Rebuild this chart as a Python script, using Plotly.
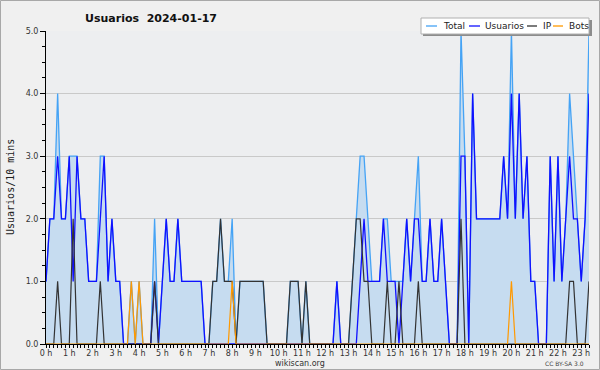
import plotly.graph_objects as go

# ---- data (10-minute slots, 00:00 .. 23:20) ----
hours = list(range(24))
hour_labels = [f"{h} h" for h in hours]
y_ticks = [0, 1, 2, 3, 4, 5]
y_labels = ["0.0", "1.0", "2.0", "3.0", "4.0", "5.0"]

total = [
    1, 2, 2, 4, 2, 2,   3, 3, 3, 2, 2, 1,   1, 1, 3, 3, 1, 2,   1, 1, 0, 0, 1, 0,
    1, 0, 0, 0, 2, 0,   1, 2, 1, 1, 2, 1,   1, 1, 1, 1, 1, 0,   0, 1, 1, 2, 1, 1,
    2, 0, 1, 1, 1, 1,   1, 1, 1, 0, 0, 0,   0, 0, 0, 1, 1, 1,   0, 1, 0, 0, 0, 0,
    0, 0, 0, 1, 0, 0,   0, 1, 2, 3, 3, 2,   1, 1, 1, 2, 2, 1,   1, 1, 1, 2, 1, 2,
    3, 1, 1, 2, 1, 1,   2, 1, 0, 0, 0, 5,   3, 0, 4, 2, 2, 2,   2, 2, 2, 2, 3, 2,
    5, 2, 4, 2, 3, 1,   1, 0, 0, 0, 3, 1,   3, 1, 2, 4, 3, 2,   1, 2, 5,
]
usuarios = [
    1, 2, 2, 3, 2, 2,   3, 1, 3, 2, 2, 1,   1, 1, 2, 3, 1, 2,   1, 1, 0, 0, 0, 0,
    0, 0, 0, 0, 1, 0,   1, 2, 1, 1, 2, 1,   1, 1, 1, 1, 1, 0,   0, 0, 0, 0, 0, 0,
    0, 0, 0, 0, 0, 0,   0, 0, 0, 0, 0, 0,   0, 0, 0, 0, 0, 0,   0, 0, 0, 0, 0, 0,
    0, 0, 0, 1, 0, 0,   0, 0, 0, 1, 2, 1,   1, 1, 1, 2, 1, 1,   1, 0, 1, 2, 1, 2,
    2, 1, 1, 2, 1, 1,   2, 1, 0, 0, 0, 3,   3, 0, 4, 2, 2, 2,   2, 2, 2, 2, 3, 2,
    4, 2, 4, 2, 3, 1,   1, 0, 0, 0, 3, 1,   3, 1, 2, 3, 2, 2,   1, 2, 4,
]
ip = [
    0, 0, 0, 1, 0, 0,   0, 2, 0, 0, 0, 0,   0, 0, 1, 0, 0, 0,   0, 0, 0, 0, 0, 0,
    0, 0, 0, 0, 1, 0,   0, 0, 0, 0, 0, 0,   0, 0, 0, 0, 0, 0,   0, 1, 1, 2, 1, 1,
    1, 0, 1, 1, 1, 1,   1, 1, 1, 0, 0, 0,   0, 0, 0, 1, 1, 1,   0, 1, 0, 0, 0, 0,
    0, 0, 0, 0, 0, 0,   0, 1, 2, 2, 1, 1,   0, 0, 0, 0, 1, 0,   0, 1, 0, 0, 0, 0,
    1, 0, 0, 0, 0, 0,   0, 0, 0, 0, 0, 2,   0, 0, 0, 0, 0, 0,   0, 0, 0, 0, 0, 0,
    0, 0, 0, 0, 0, 0,   0, 0, 0, 0, 0, 0,   0, 0, 0, 1, 1, 0,   0, 0, 1,
]
bots = [
    0, 0, 0, 0, 0, 0,   0, 0, 0, 0, 0, 0,   0, 0, 0, 0, 0, 0,   0, 0, 0, 0, 1, 0,
    1, 0, 0, 0, 0, 0,   0, 0, 0, 0, 0, 0,   0, 0, 0, 0, 0, 0,   0, 0, 0, 0, 0, 0,
    1, 0, 0, 0, 0, 0,   0, 0, 0, 0, 0, 0,   0, 0, 0, 0, 0, 0,   0, 0, 0, 0, 0, 0,
    0, 0, 0, 0, 0, 0,   0, 0, 0, 0, 0, 0,   0, 0, 0, 0, 0, 0,   0, 0, 0, 0, 0, 0,
    0, 0, 0, 0, 0, 0,   0, 0, 0, 0, 0, 0,   0, 0, 0, 0, 0, 0,   0, 0, 0, 0, 0, 0,
    1, 0, 0, 0, 0, 0,   0, 0, 0, 0, 0, 0,   0, 0, 0, 0, 0, 0,   0, 0, 0,
]
slots = list(range(len(total)))
hour_slots = [6 * h for h in hours]

series_names = ["Total", "Usuarios", "IP", "Bots"]
series_colors = ["#45a3f5", "#1010ff", "#333333", "#ff9900"]

# ---- figure geometry ----
W, H = 600, 370
PL, PR, PT, PB = 46, 589, 31, 344


def fx(x):
    return (x - PL) / (PR - PL)


def fy(y):
    return (PB - y) / (PB - PT)


FONT = "DejaVu Sans"
fig = go.Figure()

fig.add_trace(go.Scatter(x=slots, y=total, mode="lines", name="Total",
                         line=dict(color=series_colors[0], width=1.3),
                         fill="tozeroy", fillcolor="#c6dcf0", showlegend=False))
fig.add_trace(go.Scatter(x=slots, y=usuarios, mode="lines", name="Usuarios",
                         line=dict(color=series_colors[1], width=1.3), showlegend=False))
fig.add_trace(go.Scatter(x=slots, y=ip, mode="lines", name="IP",
                         line=dict(color=series_colors[2], width=1.2), showlegend=False))
fig.add_trace(go.Scatter(x=slots, y=bots, mode="lines", name="Bots",
                         line=dict(color=series_colors[3], width=1.2), showlegend=False))

shapes = []
annotations = []

# outer border
shapes.append(dict(type="rect", xref="paper", yref="paper",
                   x0=fx(0.5), x1=fx(599.5), y0=fy(0.5), y1=fy(369.5),
                   line=dict(color="#a8a8a8", width=1), layer="below"))

# legend box (shadow + box)
shapes.append(dict(type="rect", xref="paper", yref="paper",
                   x0=fx(423), x1=fx(592), y0=fy(20), y1=fy(36),
                   fillcolor="#8c8c8c", line=dict(width=0)))
shapes.append(dict(type="rect", xref="paper", yref="paper",
                   x0=fx(421), x1=fx(589), y0=fy(18), y1=fy(34),
                   fillcolor="#ffffff", line=dict(color="#b0b0b0", width=1)))

leg_lines = [(426, 437), (469, 480), (527, 537), (553, 563)]
leg_text_x = [441, 483, 541, 567]
for name, col, (a, b), tx in zip(series_names, series_colors, leg_lines, leg_text_x):
    shapes.append(dict(type="line", xref="paper", yref="paper",
                       x0=fx(a), x1=fx(b), y0=fy(26), y1=fy(26),
                       line=dict(color=col, width=1.3)))
    annotations.append(dict(text=name, xref="paper", yref="paper",
                            x=fx(tx), y=fy(26), xanchor="left", yanchor="middle",
                            showarrow=False, font=dict(family=FONT, size=9, color="#222")))

annotations.append(dict(text="wikiscan.org", xref="paper", yref="paper",
                        x=fx(300), y=fy(363), xanchor="center", yanchor="middle",
                        showarrow=False, font=dict(family=FONT, size=8, color="#333")))
annotations.append(dict(text="CC BY-SA 3.0", xref="paper", yref="paper",
                        x=fx(586), y=fy(363), xanchor="right", yanchor="middle",
                        showarrow=False, font=dict(family=FONT, size=6, color="#444")))
annotations.append(dict(text="Usuarios/10 mins", xref="paper", yref="paper",
                        x=fx(10), y=fy(187), xanchor="center", yanchor="middle",
                        textangle=-90, showarrow=False,
                        font=dict(family="DejaVu Sans Mono", size=10, color="#222")))

fig.update_layout(
    width=W, height=H,
    margin=dict(l=PL, r=W - PR, t=PT, b=H - PB, pad=0),
    paper_bgcolor="#f0f0f0", plot_bgcolor="#edeef0",
    title=dict(text="Usuarios\u00a0 2024-01-17", xref="container", yref="container",
               x=151 / W, y=1 - 18 / H, xanchor="center", yanchor="middle",
               font=dict(family=FONT, size=11, color="#111", weight="bold")),
    shapes=shapes, annotations=annotations,
    showlegend=False,
    xaxis=dict(range=[0, len(total) - 1], tickmode="array", tickvals=hour_slots,
               ticktext=hour_labels, showgrid=False, zeroline=False,
               showline=True, linecolor="#000", linewidth=1,
               ticks="outside", ticklen=3, tickcolor="#000", tickwidth=1,
               ticklabelstandoff=-2,
               tickfont=dict(family=FONT, size=8, color="#333"),
               minor=dict(tickmode="linear", tick0=0, dtick=1, ticks="outside",
                          ticklen=3, tickcolor="#000", showgrid=False),
               fixedrange=True),
    yaxis=dict(range=[0, 5], tickmode="array", tickvals=y_ticks, ticktext=y_labels,
               showgrid=True, gridcolor="#c9c9c9", gridwidth=1, zeroline=False,
               showline=True, linecolor="#000", linewidth=1,
               ticks="outside", ticklen=5, tickcolor="#000", tickwidth=1,
               tickfont=dict(family=FONT, size=8, color="#333"),
               minor=dict(tickmode="linear", tick0=0, dtick=0.25, ticks="outside",
                          ticklen=3, tickcolor="#000", showgrid=False),
               fixedrange=True),
)

fig.write_html("out.html",
               config={"displayModeBar": False},
               post_script="document.body.style.margin='0';"
                           "document.body.style.overflow='hidden';")
